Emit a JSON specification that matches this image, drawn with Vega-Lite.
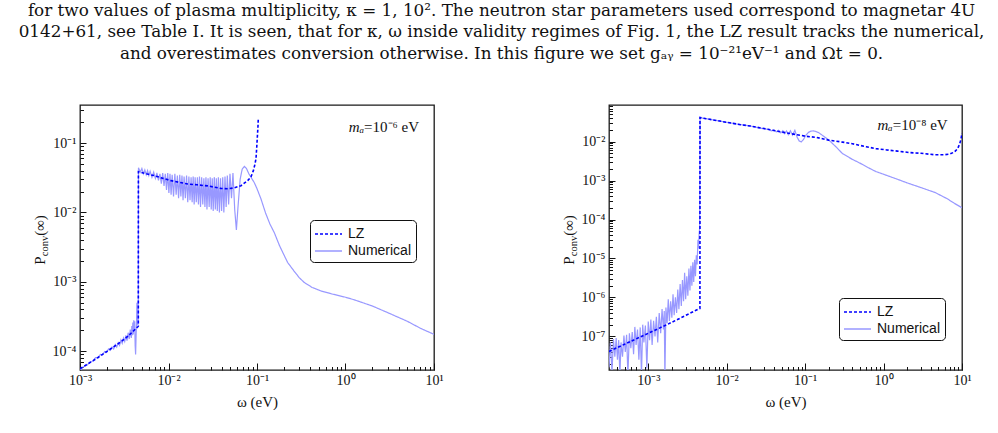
{
  "$schema": "https://vega.github.io/schema/vega-lite/v6.json",
  "padding": {"left": 18, "top": 2, "right": 0, "bottom": 0},
  "autosize": {"type": "pad"},
  "title": {
    "text": [
      "for two values of plasma multiplicity, κ = 1, 10². The neutron star parameters used correspond to magnetar 4U",
      "0142+61, see Table I. It is seen, that for κ, ω inside validity regimes of Fig. 1, the LZ result tracks the numerical,",
      "and overestimates conversion otherwise. In this figure we set gₐᵧ = 10⁻²¹eV⁻¹ and Ωt = 0."
    ],
    "font": "DejaVu Serif",
    "fontSize": 16.8,
    "fontWeight": "normal",
    "lineHeight": 21.3,
    "anchor": "middle",
    "offset": 42,
    "color": "#111"
  },
  "datasets": {
    "m6": [
      {"w": 0.001, "p": 5.6e-5, "s": "LZ"}, {"w": 0.0015, "p": 7.7e-5, "s": "LZ"}, {"w": 0.002, "p": 9.9e-5, "s": "LZ"},
      {"w": 0.0025, "p": 1.2e-4, "s": "LZ"}, {"w": 0.003, "p": 1.42e-4, "s": "LZ"}, {"w": 0.0035, "p": 1.66e-4, "s": "LZ"},
      {"w": 0.004, "p": 1.95e-4, "s": "LZ"}, {"w": 0.0045, "p": 2.25e-4, "s": "LZ"}, {"w": 0.00456, "p": 2.3e-4, "s": "LZ"},
      {"w": 0.00457, "p": 0.0386, "s": "LZ"}, {"w": 0.0055, "p": 0.0362, "s": "LZ"}, {"w": 0.0069, "p": 0.0339, "s": "LZ"},
      {"w": 0.0085, "p": 0.0312, "s": "LZ"}, {"w": 0.0107, "p": 0.0287, "s": "LZ"}, {"w": 0.0135, "p": 0.027, "s": "LZ"},
      {"w": 0.0165, "p": 0.0257, "s": "LZ"}, {"w": 0.021, "p": 0.025, "s": "LZ"}, {"w": 0.0277, "p": 0.0241, "s": "LZ"},
      {"w": 0.033, "p": 0.0231, "s": "LZ"}, {"w": 0.039, "p": 0.0222, "s": "LZ"}, {"w": 0.047, "p": 0.0219, "s": "LZ"},
      {"w": 0.0554, "p": 0.0226, "s": "LZ"}, {"w": 0.066, "p": 0.0243, "s": "LZ"}, {"w": 0.0785, "p": 0.0287, "s": "LZ"},
      {"w": 0.0855, "p": 0.0325, "s": "LZ"}, {"w": 0.091, "p": 0.04, "s": "LZ"}, {"w": 0.095, "p": 0.05, "s": "LZ"},
      {"w": 0.0975, "p": 0.06, "s": "LZ"}, {"w": 0.0995, "p": 0.09, "s": "LZ"}, {"w": 0.101, "p": 0.125, "s": "LZ"},
      {"w": 0.1025, "p": 0.17, "s": "LZ"}, {"w": 0.1035, "p": 0.23, "s": "LZ"},

      {"w": 0.001, "p": 5.3e-5, "s": "Numerical"}, {"w": 0.0011, "p": 6.0e-5, "s": "Numerical"}, {"w": 0.0012, "p": 6.3e-5, "s": "Numerical"},
      {"w": 0.0013, "p": 7.0e-5, "s": "Numerical"}, {"w": 0.0014, "p": 7.2e-5, "s": "Numerical"}, {"w": 0.0015, "p": 8.1e-5, "s": "Numerical"},
      {"w": 0.0016, "p": 8.0e-5, "s": "Numerical"}, {"w": 0.0017, "p": 9.0e-5, "s": "Numerical"}, {"w": 0.0018, "p": 8.9e-5, "s": "Numerical"},
      {"w": 0.0019, "p": 9.9e-5, "s": "Numerical"}, {"w": 0.002, "p": 9.6e-5, "s": "Numerical"}, {"w": 0.0021, "p": 1.08e-4, "s": "Numerical"},
      {"w": 0.0022, "p": 1.03e-4, "s": "Numerical"}, {"w": 0.0023, "p": 1.15e-4, "s": "Numerical"}, {"w": 0.0024, "p": 1.08e-4, "s": "Numerical"},
      {"w": 0.0025, "p": 1.25e-4, "s": "Numerical"}, {"w": 0.0026, "p": 1.15e-4, "s": "Numerical"}, {"w": 0.0027, "p": 1.33e-4, "s": "Numerical"},
      {"w": 0.0028, "p": 1.22e-4, "s": "Numerical"}, {"w": 0.0029, "p": 1.45e-4, "s": "Numerical"}, {"w": 0.003, "p": 1.3e-4, "s": "Numerical"},
      {"w": 0.0031, "p": 1.55e-4, "s": "Numerical"}, {"w": 0.0032, "p": 1.38e-4, "s": "Numerical"}, {"w": 0.0033, "p": 1.7e-4, "s": "Numerical"},
      {"w": 0.0034, "p": 1.42e-4, "s": "Numerical"}, {"w": 0.0035, "p": 1.85e-4, "s": "Numerical"}, {"w": 0.0036, "p": 1.5e-4, "s": "Numerical"},
      {"w": 0.0037, "p": 2.05e-4, "s": "Numerical"}, {"w": 0.0038, "p": 1.55e-4, "s": "Numerical"}, {"w": 0.00385, "p": 2.3e-4, "s": "Numerical"},
      {"w": 0.0039, "p": 1.7e-4, "s": "Numerical"}, {"w": 0.00395, "p": 2.6e-4, "s": "Numerical"}, {"w": 0.004, "p": 1.75e-4, "s": "Numerical"},
      {"w": 0.00405, "p": 2.8e-4, "s": "Numerical"}, {"w": 0.0041, "p": 2.0e-4, "s": "Numerical"}, {"w": 0.00415, "p": 2.7e-4, "s": "Numerical"},
      {"w": 0.0042, "p": 1.2e-4, "s": "Numerical"}, {"w": 0.00425, "p": 9.0e-5, "s": "Numerical"}, {"w": 0.0043, "p": 1.6e-4, "s": "Numerical"},
      {"w": 0.00435, "p": 2.5e-4, "s": "Numerical"}, {"w": 0.0044, "p": 5.0e-4, "s": "Numerical"}, {"w": 0.00445, "p": 3.2e-4, "s": "Numerical"},
      {"w": 0.0045, "p": 2.4e-4, "s": "Numerical"}, {"w": 0.00455, "p": 2.6e-4, "s": "Numerical"}, {"w": 0.00458, "p": 0.044, "s": "Numerical"},
      {"w": 0.0048, "p": 0.038, "s": "Numerical"}, {"w": 0.005, "p": 0.043, "s": "Numerical"}, {"w": 0.0052, "p": 0.036, "s": "Numerical"},
      {"w": 0.0054, "p": 0.041, "s": "Numerical"}, {"w": 0.0056, "p": 0.035, "s": "Numerical"}, {"w": 0.0058, "p": 0.04, "s": "Numerical"},
      {"w": 0.006, "p": 0.034, "s": "Numerical"}, {"w": 0.0062, "p": 0.039, "s": "Numerical"}, {"w": 0.0065, "p": 0.032, "s": "Numerical"},
      {"w": 0.0068, "p": 0.038, "s": "Numerical"}, {"w": 0.0071, "p": 0.031, "s": "Numerical"}, {"w": 0.0074, "p": 0.037, "s": "Numerical"},
      {"w": 0.0077, "p": 0.029, "s": "Numerical"}, {"w": 0.008, "p": 0.036, "s": "Numerical"}, {"w": 0.0083, "p": 0.026, "s": "Numerical"},
      {"w": 0.0086, "p": 0.037, "s": "Numerical"}, {"w": 0.0089, "p": 0.024, "s": "Numerical"}, {"w": 0.0092, "p": 0.036, "s": "Numerical"},
      {"w": 0.0095, "p": 0.021, "s": "Numerical"}, {"w": 0.0098, "p": 0.037, "s": "Numerical"}, {"w": 0.0101, "p": 0.019, "s": "Numerical"},
      {"w": 0.0104, "p": 0.036, "s": "Numerical"}, {"w": 0.0107, "p": 0.018, "s": "Numerical"}, {"w": 0.011, "p": 0.035, "s": "Numerical"},
      {"w": 0.0114, "p": 0.017, "s": "Numerical"}, {"w": 0.0118, "p": 0.036, "s": "Numerical"}, {"w": 0.0122, "p": 0.018, "s": "Numerical"},
      {"w": 0.0126, "p": 0.034, "s": "Numerical"}, {"w": 0.013, "p": 0.016, "s": "Numerical"}, {"w": 0.0134, "p": 0.035, "s": "Numerical"},
      {"w": 0.0138, "p": 0.017, "s": "Numerical"}, {"w": 0.0142, "p": 0.034, "s": "Numerical"}, {"w": 0.0146, "p": 0.015, "s": "Numerical"},
      {"w": 0.015, "p": 0.033, "s": "Numerical"}, {"w": 0.0155, "p": 0.016, "s": "Numerical"}, {"w": 0.016, "p": 0.034, "s": "Numerical"},
      {"w": 0.0165, "p": 0.014, "s": "Numerical"}, {"w": 0.017, "p": 0.033, "s": "Numerical"}, {"w": 0.0175, "p": 0.015, "s": "Numerical"},
      {"w": 0.018, "p": 0.032, "s": "Numerical"}, {"w": 0.0185, "p": 0.014, "s": "Numerical"}, {"w": 0.019, "p": 0.033, "s": "Numerical"},
      {"w": 0.0195, "p": 0.013, "s": "Numerical"}, {"w": 0.02, "p": 0.032, "s": "Numerical"}, {"w": 0.0206, "p": 0.014, "s": "Numerical"},
      {"w": 0.0212, "p": 0.032, "s": "Numerical"}, {"w": 0.0218, "p": 0.013, "s": "Numerical"}, {"w": 0.0224, "p": 0.033, "s": "Numerical"},
      {"w": 0.023, "p": 0.012, "s": "Numerical"}, {"w": 0.0237, "p": 0.032, "s": "Numerical"}, {"w": 0.0244, "p": 0.013, "s": "Numerical"},
      {"w": 0.0251, "p": 0.031, "s": "Numerical"}, {"w": 0.0258, "p": 0.012, "s": "Numerical"}, {"w": 0.0265, "p": 0.032, "s": "Numerical"},
      {"w": 0.0272, "p": 0.011, "s": "Numerical"}, {"w": 0.028, "p": 0.031, "s": "Numerical"}, {"w": 0.0288, "p": 0.012, "s": "Numerical"},
      {"w": 0.0296, "p": 0.032, "s": "Numerical"}, {"w": 0.0304, "p": 0.011, "s": "Numerical"}, {"w": 0.0312, "p": 0.031, "s": "Numerical"},
      {"w": 0.032, "p": 0.0105, "s": "Numerical"}, {"w": 0.0329, "p": 0.032, "s": "Numerical"}, {"w": 0.0338, "p": 0.011, "s": "Numerical"},
      {"w": 0.0347, "p": 0.031, "s": "Numerical"}, {"w": 0.0356, "p": 0.0105, "s": "Numerical"}, {"w": 0.0366, "p": 0.032, "s": "Numerical"},
      {"w": 0.0376, "p": 0.01, "s": "Numerical"}, {"w": 0.0387, "p": 0.031, "s": "Numerical"}, {"w": 0.0398, "p": 0.0105, "s": "Numerical"},
      {"w": 0.041, "p": 0.032, "s": "Numerical"}, {"w": 0.0422, "p": 0.01, "s": "Numerical"}, {"w": 0.0435, "p": 0.033, "s": "Numerical"},
      {"w": 0.0448, "p": 0.012, "s": "Numerical"}, {"w": 0.0462, "p": 0.034, "s": "Numerical"}, {"w": 0.0478, "p": 0.013, "s": "Numerical"},
      {"w": 0.0495, "p": 0.036, "s": "Numerical"}, {"w": 0.0515, "p": 0.016, "s": "Numerical"}, {"w": 0.0535, "p": 0.037, "s": "Numerical"},
      {"w": 0.056, "p": 0.011, "s": "Numerical"}, {"w": 0.0585, "p": 0.0056, "s": "Numerical"}, {"w": 0.061, "p": 0.012, "s": "Numerical"},
      {"w": 0.0645, "p": 0.03, "s": "Numerical"}, {"w": 0.068, "p": 0.042, "s": "Numerical"}, {"w": 0.072, "p": 0.046, "s": "Numerical"},
      {"w": 0.076, "p": 0.043, "s": "Numerical"}, {"w": 0.081, "p": 0.036, "s": "Numerical"}, {"w": 0.087, "p": 0.031, "s": "Numerical"},
      {"w": 0.093, "p": 0.027, "s": "Numerical"}, {"w": 0.1, "p": 0.022, "s": "Numerical"}, {"w": 0.111, "p": 0.0156, "s": "Numerical"},
      {"w": 0.125, "p": 0.0098, "s": "Numerical"}, {"w": 0.14, "p": 0.0068, "s": "Numerical"}, {"w": 0.157, "p": 0.0051, "s": "Numerical"},
      {"w": 0.18, "p": 0.0033, "s": "Numerical"}, {"w": 0.2, "p": 0.0025, "s": "Numerical"}, {"w": 0.222, "p": 0.0019, "s": "Numerical"},
      {"w": 0.26, "p": 0.00145, "s": "Numerical"}, {"w": 0.3, "p": 0.00115, "s": "Numerical"}, {"w": 0.342, "p": 0.00098, "s": "Numerical"},
      {"w": 0.42, "p": 0.00083, "s": "Numerical"}, {"w": 0.528, "p": 0.00074, "s": "Numerical"}, {"w": 0.7, "p": 0.00067, "s": "Numerical"},
      {"w": 1.0, "p": 0.0006, "s": "Numerical"}, {"w": 1.26, "p": 0.00055, "s": "Numerical"}, {"w": 2.0, "p": 0.00045, "s": "Numerical"},
      {"w": 3.0, "p": 0.00036, "s": "Numerical"}, {"w": 5.0, "p": 0.00027, "s": "Numerical"}, {"w": 7.0, "p": 0.000215, "s": "Numerical"},
      {"w": 10, "p": 0.000175, "s": "Numerical"}
    ],
    "m8": [
      {"w": 0.000316, "p": 4.1e-8, "s": "LZ"}, {"w": 0.0005, "p": 6.3e-8, "s": "LZ"}, {"w": 0.0007, "p": 8.6e-8, "s": "LZ"},
      {"w": 0.001, "p": 1.2e-7, "s": "LZ"}, {"w": 0.0015, "p": 1.75e-7, "s": "LZ"}, {"w": 0.002, "p": 2.3e-7, "s": "LZ"},
      {"w": 0.003, "p": 3.45e-7, "s": "LZ"}, {"w": 0.004, "p": 4.6e-7, "s": "LZ"}, {"w": 0.00456, "p": 5.2e-7, "s": "LZ"},
      {"w": 0.00457, "p": 0.0414, "s": "LZ"}, {"w": 0.007, "p": 0.0355, "s": "LZ"}, {"w": 0.01, "p": 0.0313, "s": "LZ"},
      {"w": 0.015, "p": 0.0272, "s": "LZ"}, {"w": 0.02, "p": 0.0251, "s": "LZ"}, {"w": 0.03, "p": 0.0216, "s": "LZ"},
      {"w": 0.05, "p": 0.0176, "s": "LZ"}, {"w": 0.075, "p": 0.0153, "s": "LZ"}, {"w": 0.1, "p": 0.0138, "s": "LZ"},
      {"w": 0.14, "p": 0.0128, "s": "LZ"}, {"w": 0.2, "p": 0.0109, "s": "LZ"}, {"w": 0.3, "p": 0.0097, "s": "LZ"},
      {"w": 0.4, "p": 0.0088, "s": "LZ"}, {"w": 0.6, "p": 0.0074, "s": "LZ"}, {"w": 0.8, "p": 0.0066, "s": "LZ"},
      {"w": 1.1, "p": 0.0061, "s": "LZ"}, {"w": 1.5, "p": 0.0057, "s": "LZ"}, {"w": 2.2, "p": 0.0052, "s": "LZ"},
      {"w": 3.0, "p": 0.005, "s": "LZ"}, {"w": 4.5, "p": 0.0046, "s": "LZ"}, {"w": 6.0, "p": 0.0046, "s": "LZ"},
      {"w": 7.0, "p": 0.0048, "s": "LZ"}, {"w": 8.0, "p": 0.0054, "s": "LZ"}, {"w": 8.8, "p": 0.0066, "s": "LZ"},
      {"w": 9.3, "p": 0.0085, "s": "LZ"}, {"w": 9.7, "p": 0.0115, "s": "LZ"}, {"w": 10, "p": 0.0165, "s": "LZ"},

      {"w": 0.000316, "p": 1.6e-8, "s": "Numerical"}, {"w": 0.00033, "p": 7e-8, "s": "Numerical"}, {"w": 0.000345, "p": 1.2e-8, "s": "Numerical"},
      {"w": 0.00036, "p": 8.5e-8, "s": "Numerical"}, {"w": 0.000375, "p": 3e-8, "s": "Numerical"}, {"w": 0.00039, "p": 9e-8, "s": "Numerical"},
      {"w": 0.000405, "p": 2.5e-8, "s": "Numerical"}, {"w": 0.00042, "p": 8e-8, "s": "Numerical"}, {"w": 0.000435, "p": 1.0e-8, "s": "Numerical"},
      {"w": 0.00045, "p": 7e-8, "s": "Numerical"}, {"w": 0.00047, "p": 3e-8, "s": "Numerical"}, {"w": 0.00049, "p": 1.05e-7, "s": "Numerical"},
      {"w": 0.00051, "p": 4e-8, "s": "Numerical"}, {"w": 0.00053, "p": 1.1e-7, "s": "Numerical"}, {"w": 0.00055, "p": 1.0e-8, "s": "Numerical"},
      {"w": 0.000575, "p": 1.2e-7, "s": "Numerical"}, {"w": 0.0006, "p": 5e-8, "s": "Numerical"}, {"w": 0.000625, "p": 1.3e-7, "s": "Numerical"},
      {"w": 0.00065, "p": 3.5e-8, "s": "Numerical"}, {"w": 0.000675, "p": 1.75e-7, "s": "Numerical"}, {"w": 0.0007, "p": 6e-8, "s": "Numerical"},
      {"w": 0.00073, "p": 1.5e-7, "s": "Numerical"}, {"w": 0.00076, "p": 2.5e-8, "s": "Numerical"}, {"w": 0.00079, "p": 1.7e-7, "s": "Numerical"},
      {"w": 0.00082, "p": 1.0e-8, "s": "Numerical"}, {"w": 0.00085, "p": 2.0e-7, "s": "Numerical"}, {"w": 0.00088, "p": 7e-8, "s": "Numerical"},
      {"w": 0.00092, "p": 1.9e-7, "s": "Numerical"}, {"w": 0.00096, "p": 1.5e-8, "s": "Numerical"}, {"w": 0.001, "p": 2.4e-7, "s": "Numerical"},
      {"w": 0.00104, "p": 8e-8, "s": "Numerical"}, {"w": 0.00108, "p": 2.7e-7, "s": "Numerical"}, {"w": 0.00112, "p": 6e-8, "s": "Numerical"},
      {"w": 0.00117, "p": 2.5e-7, "s": "Numerical"}, {"w": 0.00122, "p": 1.0e-7, "s": "Numerical"}, {"w": 0.00127, "p": 3.2e-7, "s": "Numerical"},
      {"w": 0.00132, "p": 7e-8, "s": "Numerical"}, {"w": 0.00138, "p": 4e-7, "s": "Numerical"}, {"w": 0.00144, "p": 1.2e-7, "s": "Numerical"},
      {"w": 0.0015, "p": 5e-7, "s": "Numerical"}, {"w": 0.00156, "p": 1.5e-7, "s": "Numerical"}, {"w": 0.0016, "p": 4.5e-7, "s": "Numerical"},
      {"w": 0.00163, "p": 8e-9, "s": "Numerical"}, {"w": 0.00168, "p": 5.5e-7, "s": "Numerical"}, {"w": 0.00174, "p": 2.2e-7, "s": "Numerical"},
      {"w": 0.0018, "p": 9e-7, "s": "Numerical"}, {"w": 0.00186, "p": 2.5e-7, "s": "Numerical"}, {"w": 0.00193, "p": 8e-7, "s": "Numerical"},
      {"w": 0.002, "p": 3.0e-7, "s": "Numerical"}, {"w": 0.00207, "p": 1.2e-6, "s": "Numerical"}, {"w": 0.00214, "p": 3.5e-7, "s": "Numerical"},
      {"w": 0.00222, "p": 1.0e-6, "s": "Numerical"}, {"w": 0.0023, "p": 4e-7, "s": "Numerical"}, {"w": 0.00238, "p": 1.6e-6, "s": "Numerical"},
      {"w": 0.00246, "p": 5e-7, "s": "Numerical"}, {"w": 0.00255, "p": 2.2e-6, "s": "Numerical"}, {"w": 0.00264, "p": 6e-7, "s": "Numerical"},
      {"w": 0.00273, "p": 2.8e-6, "s": "Numerical"}, {"w": 0.00282, "p": 8e-7, "s": "Numerical"}, {"w": 0.00291, "p": 4.3e-6, "s": "Numerical"},
      {"w": 0.003, "p": 9e-7, "s": "Numerical"}, {"w": 0.0031, "p": 3.5e-6, "s": "Numerical"}, {"w": 0.0032, "p": 1.1e-6, "s": "Numerical"},
      {"w": 0.0033, "p": 5.5e-6, "s": "Numerical"}, {"w": 0.0034, "p": 1.5e-6, "s": "Numerical"}, {"w": 0.0035, "p": 6.5e-6, "s": "Numerical"},
      {"w": 0.0036, "p": 2e-6, "s": "Numerical"}, {"w": 0.0037, "p": 8e-6, "s": "Numerical"}, {"w": 0.0038, "p": 2.5e-6, "s": "Numerical"},
      {"w": 0.0039, "p": 9.3e-6, "s": "Numerical"}, {"w": 0.004, "p": 3.5e-6, "s": "Numerical"}, {"w": 0.0041, "p": 1.2e-5, "s": "Numerical"},
      {"w": 0.0042, "p": 7e-6, "s": "Numerical"}, {"w": 0.0043, "p": 3e-5, "s": "Numerical"}, {"w": 0.00438, "p": 1.8e-5, "s": "Numerical"},
      {"w": 0.00445, "p": 4.2e-5, "s": "Numerical"}, {"w": 0.00452, "p": 6e-5, "s": "Numerical"}, {"w": 0.00458, "p": 0.0412, "s": "Numerical"},
      {"w": 0.007, "p": 0.0355, "s": "Numerical"}, {"w": 0.01, "p": 0.0312, "s": "Numerical"}, {"w": 0.015, "p": 0.0274, "s": "Numerical"},
      {"w": 0.02, "p": 0.0252, "s": "Numerical"}, {"w": 0.025, "p": 0.0228, "s": "Numerical"}, {"w": 0.03, "p": 0.0212, "s": "Numerical"},
      {"w": 0.034, "p": 0.0207, "s": "Numerical"}, {"w": 0.037, "p": 0.0188, "s": "Numerical"}, {"w": 0.04, "p": 0.02, "s": "Numerical"},
      {"w": 0.043, "p": 0.0178, "s": "Numerical"}, {"w": 0.046, "p": 0.0195, "s": "Numerical"}, {"w": 0.049, "p": 0.0168, "s": "Numerical"},
      {"w": 0.052, "p": 0.019, "s": "Numerical"}, {"w": 0.055, "p": 0.016, "s": "Numerical"}, {"w": 0.058, "p": 0.0188, "s": "Numerical"},
      {"w": 0.061, "p": 0.015, "s": "Numerical"}, {"w": 0.065, "p": 0.019, "s": "Numerical"}, {"w": 0.069, "p": 0.0146, "s": "Numerical"},
      {"w": 0.074, "p": 0.0195, "s": "Numerical"}, {"w": 0.079, "p": 0.013, "s": "Numerical"}, {"w": 0.084, "p": 0.0104, "s": "Numerical"},
      {"w": 0.089, "p": 0.0098, "s": "Numerical"}, {"w": 0.095, "p": 0.0112, "s": "Numerical"}, {"w": 0.102, "p": 0.0145, "s": "Numerical"},
      {"w": 0.11, "p": 0.0172, "s": "Numerical"}, {"w": 0.118, "p": 0.0185, "s": "Numerical"}, {"w": 0.126, "p": 0.0188, "s": "Numerical"},
      {"w": 0.135, "p": 0.0184, "s": "Numerical"}, {"w": 0.15, "p": 0.0168, "s": "Numerical"}, {"w": 0.17, "p": 0.014, "s": "Numerical"},
      {"w": 0.2, "p": 0.011, "s": "Numerical"}, {"w": 0.25, "p": 0.0072, "s": "Numerical"}, {"w": 0.3, "p": 0.0049, "s": "Numerical"},
      {"w": 0.4, "p": 0.0035, "s": "Numerical"}, {"w": 0.5, "p": 0.0028, "s": "Numerical"}, {"w": 0.65, "p": 0.0021, "s": "Numerical"},
      {"w": 0.8, "p": 0.0017, "s": "Numerical"}, {"w": 1.05, "p": 0.0014, "s": "Numerical"}, {"w": 1.5, "p": 0.00108, "s": "Numerical"},
      {"w": 2.0, "p": 0.00087, "s": "Numerical"}, {"w": 3.0, "p": 0.00066, "s": "Numerical"}, {"w": 4.57, "p": 0.00049, "s": "Numerical"},
      {"w": 6.5, "p": 0.00034, "s": "Numerical"}, {"w": 8.0, "p": 0.00026, "s": "Numerical"}, {"w": 10, "p": 0.0002, "s": "Numerical"}
    ]
  },
  "hconcat": [
    {
      "width": 354,
      "height": 265,
      "data": {"name": "m6"},
      "layer": [
        {
          "transform": [{"filter": "datum.s == 'Numerical'"}],
          "mark": {"type": "line", "clip": true, "strokeWidth": 1.2},
          "encoding": {
            "x": {
              "field": "w", "type": "quantitative",
              "scale": {"type": "log", "domain": [0.001, 10], "nice": false},
              "axis": {
                "orient": "bottom", "values": [0.001, 0.01, 0.1, 1, 10],
                "labelExpr": "datum.value < 0.002 ? '10⁻³' : datum.value < 0.02 ? '10⁻²' : datum.value < 0.2 ? '10⁻¹' : datum.value < 2 ? '10⁰' : '10¹'",
                "tickSize": -7, "labelPadding": 10,
                "title": "ω (eV)", "titleY": 36, "titleBaseline": "alphabetic"
              }
            },
            "y": {
              "field": "p", "type": "quantitative",
              "scale": {"type": "log", "domain": [5.37e-5, 0.353], "nice": false},
              "axis": {
                "orient": "left", "values": [0.0001, 0.001, 0.01, 0.1],
                "labelExpr": "datum.value < 0.0002 ? '10⁻⁴' : datum.value < 0.002 ? '10⁻³' : datum.value < 0.02 ? '10⁻²' : '10⁻¹'",
                "tickSize": -6, "labelPadding": 10,
                "title": "P", "titleAngle": 270, "titleAlign": "center", "titleBaseline": "alphabetic",
                "titleX": -36, "titleY": 155
              }
            },
            "color": {
              "field": "s", "type": "nominal",
              "scale": {"domain": ["LZ", "Numerical"], "range": ["#0000ff", "#9898ff"]},
              "legend": {"title": null, "orient": "none", "legendX": 230, "legendY": 115, "direction": "vertical", "symbolType": "M-1,0H2"}
            },
            "strokeDash": {
              "field": "s", "type": "nominal",
              "scale": {"domain": ["LZ", "Numerical"], "range": [[3, 2], [1, 0]]},
              "legend": {"title": null, "orient": "none", "legendX": 230, "legendY": 115, "direction": "vertical", "symbolType": "M-1,0H2"}
            }
          }
        },
        {
          "transform": [{"filter": "datum.s == 'LZ'"}],
          "mark": {"type": "line", "clip": true, "strokeWidth": 1.6},
          "encoding": {
            "x": {
              "field": "w", "type": "quantitative",
              "axis": {
                "orient": "bottom", "labels": false, "tickSize": -3.5, "title": null,
                "values": [0.002, 0.003, 0.004, 0.005, 0.006, 0.007, 0.008, 0.009, 0.02, 0.03, 0.04, 0.05, 0.06, 0.07, 0.08, 0.09, 0.2, 0.3, 0.4, 0.5, 0.6, 0.7, 0.8, 0.9, 2, 3, 4, 5, 6, 7, 8, 9]
              }
            },
            "y": {
              "field": "p", "type": "quantitative",
              "axis": {
                "orient": "left", "labels": false, "tickSize": -3.5,
                "values": [6e-5, 7e-5, 8e-5, 9e-5, 0.0002, 0.0003, 0.0004, 0.0005, 0.0006, 0.0007, 0.0008, 0.0009, 0.002, 0.003, 0.004, 0.005, 0.006, 0.007, 0.008, 0.009, 0.02, 0.03, 0.04, 0.05, 0.06, 0.07, 0.08, 0.09, 0.2, 0.3],
                "title": "conv", "titleFontSize": 10.5, "titleAngle": 270, "titleAlign": "center", "titleBaseline": "alphabetic",
                "titleX": -33, "titleY": 140.5
              }
            },
            "color": {"field": "s", "type": "nominal"},
            "strokeDash": {"field": "s", "type": "nominal"}
          }
        },
        {
          "data": {"values": [{"label": "mₐ"}]},
          "mark": {"type": "text", "fontStyle": "italic", "align": "right", "baseline": "alphabetic", "fontSize": 15},
          "encoding": {
            "text": {"field": "label"},
            "x": {"datum": 1.62, "type": "quantitative", "axis": null},
            "y": {
              "datum": 0.146, "type": "quantitative",
              "axis": {
                "orient": "left", "labels": false, "ticks": false, "values": [],
                "title": "(∞)", "titleAngle": 270, "titleAlign": "center", "titleBaseline": "alphabetic",
                "titleX": -36, "titleY": 120
              }
            }
          }
        },
        {
          "data": {"values": [{"label": "=10⁻⁶ eV"}]},
          "mark": {"type": "text", "align": "left", "baseline": "alphabetic", "fontSize": 15},
          "encoding": {
            "text": {"field": "label"},
            "x": {"datum": 1.62, "type": "quantitative", "axis": null},
            "y": {"datum": 0.146, "type": "quantitative", "axis": null}
          }
        }
      ],
      "resolve": {"axis": {"x": "independent", "y": "independent"}}
    },
    {
      "width": 353,
      "height": 265,
      "data": {"name": "m8"},
      "layer": [
        {
          "transform": [{"filter": "datum.s == 'Numerical'"}],
          "mark": {"type": "line", "clip": true, "strokeWidth": 1.2},
          "encoding": {
            "x": {
              "field": "w", "type": "quantitative",
              "scale": {"type": "log", "domain": [0.000316, 10], "nice": false},
              "axis": {
                "orient": "bottom", "values": [0.001, 0.01, 0.1, 1, 10],
                "labelExpr": "datum.value < 0.002 ? '10⁻³' : datum.value < 0.02 ? '10⁻²' : datum.value < 0.2 ? '10⁻¹' : datum.value < 2 ? '10⁰' : '10¹'",
                "tickSize": -7, "labelPadding": 10,
                "title": "ω (eV)", "titleY": 36, "titleBaseline": "alphabetic"
              }
            },
            "y": {
              "field": "p", "type": "quantitative",
              "scale": {"type": "log", "domain": [1.37e-8, 0.087], "nice": false},
              "axis": {
                "orient": "left", "values": [1e-7, 1e-6, 1e-5, 0.0001, 0.001, 0.01],
                "labelExpr": "datum.value < 2e-7 ? '10⁻⁷' : datum.value < 2e-6 ? '10⁻⁶' : datum.value < 2e-5 ? '10⁻⁵' : datum.value < 0.0002 ? '10⁻⁴' : datum.value < 0.002 ? '10⁻³' : '10⁻²'",
                "tickSize": -6, "labelPadding": 10,
                "title": "P", "titleAngle": 270, "titleAlign": "center", "titleBaseline": "alphabetic",
                "titleX": -36, "titleY": 155
              }
            },
            "color": {
              "field": "s", "type": "nominal",
              "scale": {"domain": ["LZ", "Numerical"], "range": ["#0000ff", "#9898ff"]},
              "legend": {"title": null, "orient": "none", "legendX": 230, "legendY": 193, "direction": "vertical", "symbolType": "M-1,0H2"}
            },
            "strokeDash": {
              "field": "s", "type": "nominal",
              "scale": {"domain": ["LZ", "Numerical"], "range": [[3, 2], [1, 0]]},
              "legend": {"title": null, "orient": "none", "legendX": 230, "legendY": 193, "direction": "vertical", "symbolType": "M-1,0H2"}
            }
          }
        },
        {
          "transform": [{"filter": "datum.s == 'LZ'"}],
          "mark": {"type": "line", "clip": true, "strokeWidth": 1.6},
          "encoding": {
            "x": {
              "field": "w", "type": "quantitative",
              "axis": {
                "orient": "bottom", "labels": false, "tickSize": -3.5, "title": null,
                "values": [0.0004, 0.0005, 0.0006, 0.0007, 0.0008, 0.0009, 0.002, 0.003, 0.004, 0.005, 0.006, 0.007, 0.008, 0.009, 0.02, 0.03, 0.04, 0.05, 0.06, 0.07, 0.08, 0.09, 0.2, 0.3, 0.4, 0.5, 0.6, 0.7, 0.8, 0.9, 2, 3, 4, 5, 6, 7, 8, 9]
              }
            },
            "y": {
              "field": "p", "type": "quantitative",
              "axis": {
                "orient": "left", "labels": false, "tickSize": -3.5,
                "values": [2e-8, 3e-8, 4e-8, 5e-8, 6e-8, 7e-8, 8e-8, 9e-8, 2e-7, 3e-7, 4e-7, 5e-7, 6e-7, 7e-7, 8e-7, 9e-7, 2e-6, 3e-6, 4e-6, 5e-6, 6e-6, 7e-6, 8e-6, 9e-6, 2e-5, 3e-5, 4e-5, 5e-5, 6e-5, 7e-5, 8e-5, 9e-5, 0.0002, 0.0003, 0.0004, 0.0005, 0.0006, 0.0007, 0.0008, 0.0009, 0.002, 0.003, 0.004, 0.005, 0.006, 0.007, 0.008, 0.009, 0.02, 0.03, 0.04, 0.05, 0.06, 0.07, 0.08],
                "title": "conv", "titleFontSize": 10.5, "titleAngle": 270, "titleAlign": "center", "titleBaseline": "alphabetic",
                "titleX": -33, "titleY": 140.5
              }
            },
            "color": {"field": "s", "type": "nominal"},
            "strokeDash": {"field": "s", "type": "nominal"}
          }
        },
        {
          "data": {"values": [{"label": "mₐ"}]},
          "mark": {"type": "text", "fontStyle": "italic", "align": "right", "baseline": "alphabetic", "fontSize": 15},
          "encoding": {
            "text": {"field": "label"},
            "x": {"datum": 1.31, "type": "quantitative", "axis": null},
            "y": {
              "datum": 0.0195, "type": "quantitative",
              "axis": {
                "orient": "left", "labels": false, "ticks": false, "values": [],
                "title": "(∞)", "titleAngle": 270, "titleAlign": "center", "titleBaseline": "alphabetic",
                "titleX": -36, "titleY": 120
              }
            }
          }
        },
        {
          "data": {"values": [{"label": "=10⁻⁸ eV"}]},
          "mark": {"type": "text", "align": "left", "baseline": "alphabetic", "fontSize": 15},
          "encoding": {
            "text": {"field": "label"},
            "x": {"datum": 1.31, "type": "quantitative", "axis": null},
            "y": {"datum": 0.0195, "type": "quantitative", "axis": null}
          }
        }
      ],
      "resolve": {"axis": {"x": "independent", "y": "independent"}}
    }
  ],
  "bounds": "flush",
  "spacing": 175,
  "resolve": {
    "scale": {"x": "independent", "y": "independent", "color": "independent", "strokeDash": "independent"},
    "legend": {"color": "independent", "strokeDash": "independent"}
  },
  "config": {
    "view": {"stroke": "#1a1a1a", "strokeWidth": 1.3},
    "axis": {
      "grid": false, "domain": false,
      "labelFont": "Liberation Serif", "labelFontSize": 14, "labelColor": "#111",
      "titleFont": "Liberation Serif", "titleFontSize": 15, "titleFontWeight": "normal", "titleColor": "#111",
      "tickColor": "#111", "tickWidth": 1, "labelFlush": false, "labelOverlap": false
    },
    "legend": {
      "labelFont": "Liberation Sans", "labelFontSize": 14, "labelColor": "#111",
      "strokeColor": "#111", "cornerRadius": 4, "padding": 4, "fillColor": "white",
      "symbolSize": 324, "symbolStrokeWidth": 1.5, "labelOffset": 14, "rowPadding": 0
    },
    "text": {"font": "Liberation Serif", "fontSize": 15, "color": "#111"}
  }
}
